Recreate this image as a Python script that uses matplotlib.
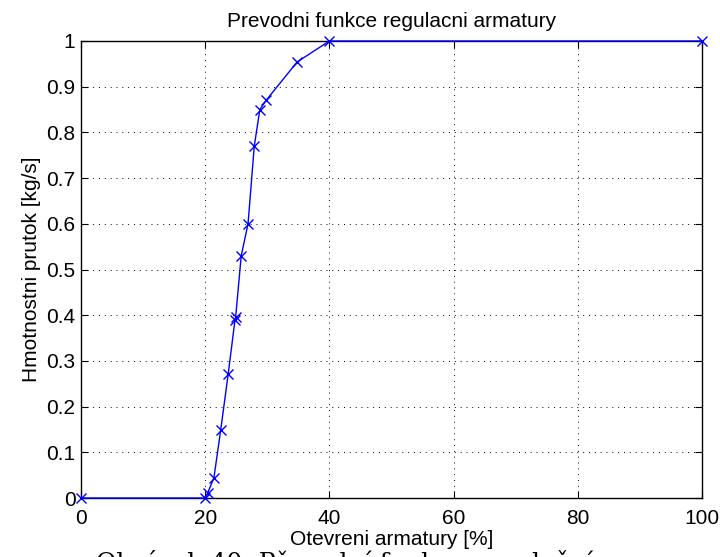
import matplotlib
matplotlib.use("Agg")
import matplotlib.pyplot as plt

# otevreni armatury [%] a hmotnostni prutok [kg/s]
otevreni = [0, 20, 20.4, 21.4, 22.5, 23.7, 24.8, 24.9, 25.8, 26.9, 27.9, 28.8, 29.8, 34.8, 40, 100]
prutok = [0, 0, 0.011, 0.044, 0.149, 0.271, 0.39, 0.395, 0.53, 0.60, 0.77, 0.85, 0.87, 0.954, 1.0, 1.0]

x_ticks = [0, 20, 40, 60, 80, 100]
y_ticks = [0, 0.1, 0.2, 0.3, 0.4, 0.5, 0.6, 0.7, 0.8, 0.9, 1]
y_labels = ["0", "0.1", "0.2", "0.3", "0.4", "0.5", "0.6", "0.7", "0.8", "0.9", "1"]

plt.rcParams['font.family'] = ['Liberation Sans', 'DejaVu Sans']

fig = plt.figure(figsize=(7.2, 5.57), dpi=100)
ax = fig.add_axes([0.1125, 0.1059, 0.8625, 0.8205])

ax.plot(otevreni, prutok, color='#0000ff', linewidth=1.0, marker='x',
        markersize=7, markeredgewidth=1.0, clip_on=False, zorder=3)

ax.set_xlim(0, 100)
ax.set_ylim(0, 1)
ax.set_xticks(x_ticks)
ax.set_yticks(y_ticks)
ax.set_yticklabels(y_labels)
ax.tick_params(direction='in', top=True, right=True, labelsize=15, length=5,
               width=0.8)
ax.tick_params(axis='x', pad=8)
ax.tick_params(axis='y', pad=4)
ax.grid(True, linestyle=(0, (1, 5)), color='black', linewidth=0.7)
for s in ax.spines.values():
    s.set_linewidth(1.0)

ax.set_title("Prevodni funkce regulacni armatury", fontsize=15, pad=10)
ax.set_xlabel("Otevreni armatury [%]", fontsize=15, labelpad=1)
ax.set_ylabel("Hmotnostni prutok [kg/s]", fontsize=15, labelpad=4)

# popisek pod obrazkem (oriznuty okrajem)
fig.text(96 / 720, 1 - 550 / 557, "Obrázek 40: Převodní funkce regulační",
         family=['DejaVu Serif'], fontsize=18, va='top', ha='left')

fig.savefig("out.png", dpi=100)
